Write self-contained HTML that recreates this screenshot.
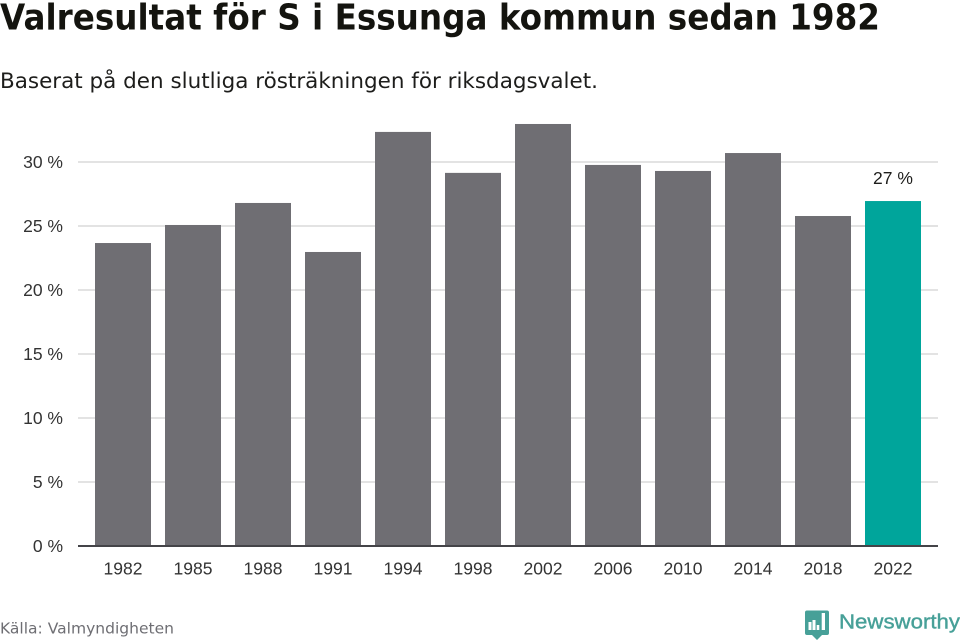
<!DOCTYPE html>
<html lang="sv">
<head>
<meta charset="utf-8">
<title>Valresultat för S i Essunga kommun sedan 1982</title>
<style>
html,body{margin:0;padding:0;background:#fff;}
#stage{display:block;width:960px;height:640px;}
text{font-family:"DejaVu Sans","Liberation Sans",sans-serif;}
text.tick{font-family:"Liberation Sans",sans-serif;font-size:17.5px;}
</style>
</head>
<body>
<svg id="stage" xmlns="http://www.w3.org/2000/svg" width="960" height="640" viewBox="0 0 960 640">
  <rect width="960" height="640" fill="#ffffff"/>
  <text x="0" y="29.500" font-size="36" font-weight="700" fill="#14140f" textLength="880" lengthAdjust="spacingAndGlyphs">Valresultat för S i Essunga kommun sedan 1982</text>
  <text x="0" y="88" font-size="21" fill="#1d1d1b" textLength="598" lengthAdjust="spacingAndGlyphs">Baserat på den slutliga rösträkningen för riksdagsvalet.</text>
  <g id="grid"></g>
  <g id="bars"></g>
  <g id="yaxis"></g>
  <g id="xaxis"></g>
  <g id="labels"></g>
  <text x="0" y="633.500" font-size="15.500" fill="#6e6e73" textLength="174" lengthAdjust="spacingAndGlyphs">Källa: Valmyndigheten</text>
  <g>
    <path d="M807 610.500 H827 Q829 610.500 829 612.500 V633 Q829 635 827 635 H822 L817 640 L812 635 H807 Q805 635 805 633 V612.500 Q805 610.500 807 610.500 Z" fill="#47a098"/>
    <rect x="808.500" y="622" width="3" height="8" fill="#ffffff"/>
    <rect x="812.500" y="620" width="3" height="10" fill="#ffffff"/>
    <rect x="816.700" y="625" width="2.600" height="5" fill="#ffffff"/>
    <rect x="821.700" y="613" width="3.300" height="17" fill="#ffffff"/>
    <text x="839" y="628.500" font-size="20.500" fill="#47a098" stroke="#47a098" stroke-width="0.400" textLength="121" lengthAdjust="spacingAndGlyphs" style="font-family:'Liberation Sans',sans-serif">Newsworthy</text>
  </g>
</svg>
<script>
const categories = ['1982','1985','1988','1991','1994','1998','2002','2006','2010','2014','2018','2022'];
const seriesValues = [23.67,25.08,26.8,22.97,32.35,29.15,32.97,29.77,29.3,30.7,25.78,26.95];
const yTicks = [0,5,10,15,20,25,30];
const highlightedCategory = '2022';
const highlightedLabel = '27 %';

const NS = 'http://www.w3.org/2000/svg';
const plot = {left:78,right:938,top:124,bottom:546,yPerUnit:12.8,edgePad:10,barPad:7};
const step = (plot.right - plot.left - 2 * plot.edgePad) / categories.length;
const barWidth = step - 2 * plot.barPad;
function yScale(v){ return plot.bottom - v * plot.yPerUnit; }
function xBand(i){ return plot.left + plot.edgePad + i * step + plot.barPad; }
function mk(tag, attrs, parent, text){
  const el = document.createElementNS(NS, tag);
  for (const k in attrs) el.setAttribute(k, attrs[k]);
  if (text !== undefined) el.textContent = text;
  parent.appendChild(el);
  return el;
}
const grid = document.getElementById('grid');
const bars = document.getElementById('bars');
const yaxis = document.getElementById('yaxis');
const xaxis = document.getElementById('xaxis');
const labels = document.getElementById('labels');

yTicks.forEach(function(t){
  const y = yScale(t);
  if (t !== 0) {
    const line = mk('line', {x1:plot.left,x2:plot.right,y1:y,y2:y,stroke:'#e3e3e3','stroke-width':2}, grid);
    
    
  }
  const lab = mk('text', {class:'tick',x:63,y:y+6,'text-anchor':'end',fill:'#333333'}, yaxis, t + ' %');
  
  
});

categories.forEach(function(c, i){
  const v = seriesValues[i];
  const isHi = c === highlightedCategory;
  const bar = mk('rect', {x:xBand(i),y:yScale(v),width:barWidth,height:plot.bottom - yScale(v),fill:isHi ? '#00a59b' : '#6f6e73'}, bars);
  
  
  const tick = mk('text', {class:'tick',x:xBand(i) + barWidth / 2,y:574.5,'text-anchor':'middle',fill:'#333333'}, xaxis, c);
  
  
  if (isHi) {
    const vl = mk('text', {class:'tick',x:xBand(i) + barWidth / 2,y:yScale(v) - 17,'text-anchor':'middle',fill:'#1d1d1b'}, labels, highlightedLabel);
    
    
  }
});

const baseline = mk('line', {x1:plot.left,x2:plot.right,y1:plot.bottom,y2:plot.bottom,stroke:'#444448','stroke-width':2}, xaxis);


</script>
</body>
</html>
